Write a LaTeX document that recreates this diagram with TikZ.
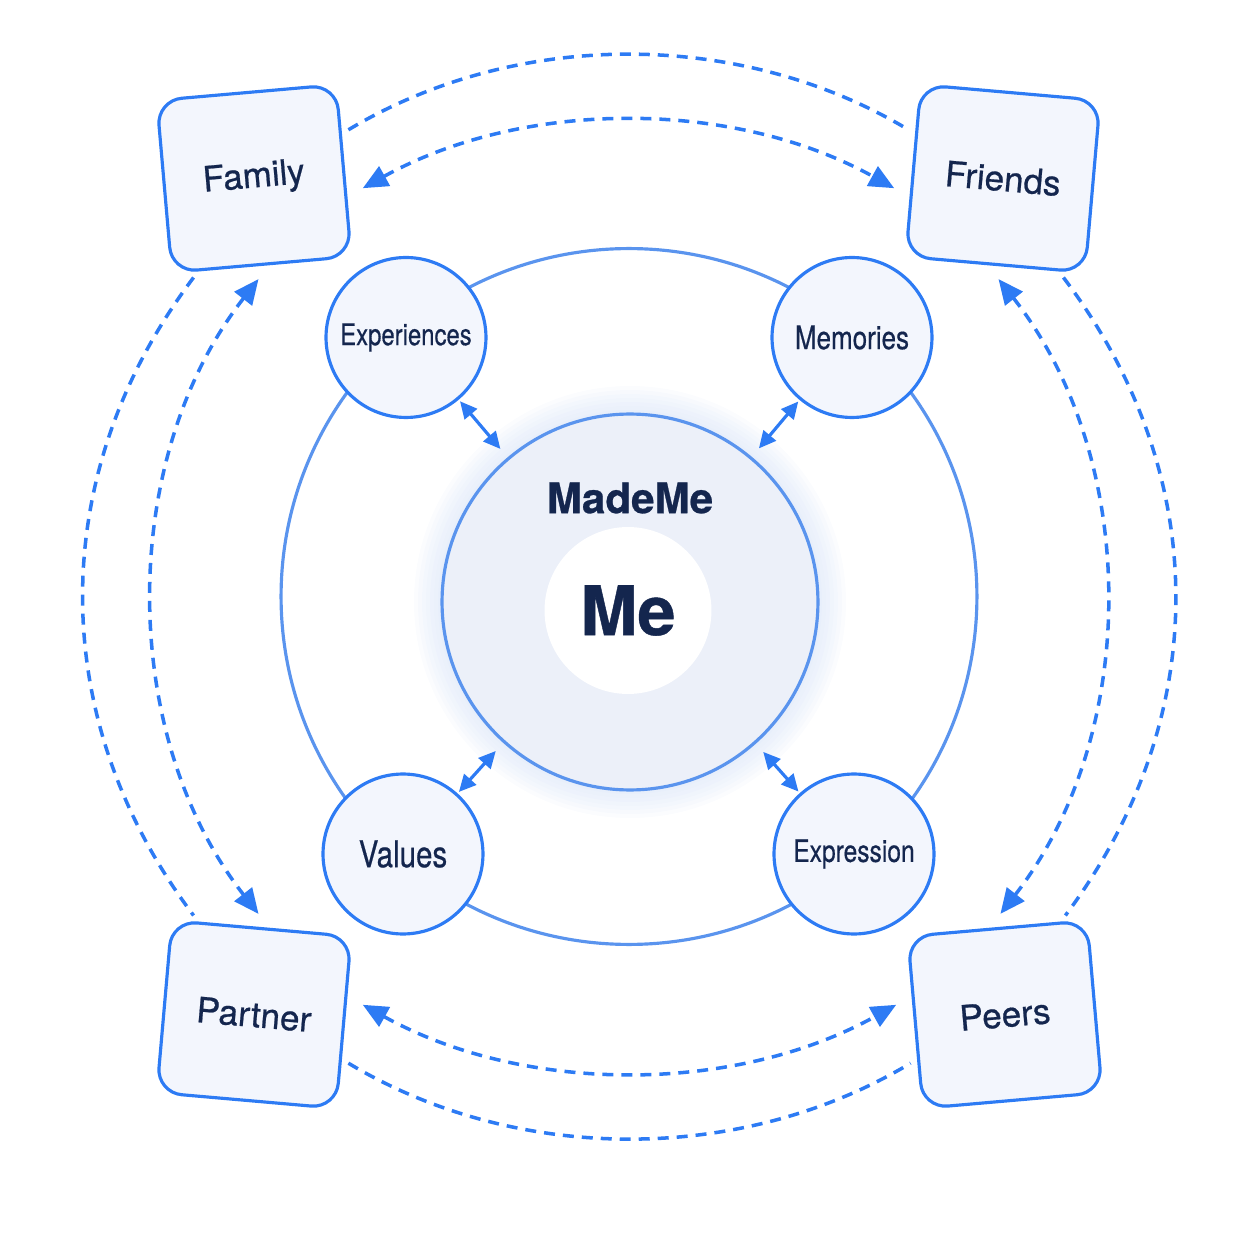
\documentclass[tikz,border=0pt]{standalone}
\usepackage{fontspec}
\setmainfont{TeX Gyre Heros}[FakeBold=0.6]
\newfontfamily\narrowsans[FakeStretch=0.8, FakeBold=0.5]{TeX Gyre Heros}
\usepackage{xcolor}
\usepackage{tikz}
\usetikzlibrary{arrows.meta, shapes.geometric}
\definecolor{LinkBlue}{HTML}{2D7BF4}
\definecolor{RingBlue}{HTML}{5A94EE}
\definecolor{BoxFill}{HTML}{F3F6FD}
\definecolor{CoreFill}{HTML}{ECF0F9}
\definecolor{GlowBlue}{HTML}{C5D6F4}
\definecolor{InkNavy}{HTML}{14264E}

\begin{document}
\begin{tikzpicture}[x=0.02cm, y=0.02cm,
  groupbox/.style={draw=LinkBlue, line width=1.8pt, fill=BoxFill, rounded corners=0.5cm, minimum width=3.6cm, minimum height=3.45cm, inner sep=0pt, text=InkNavy, font=\fontsize{20}{24}\selectfont},
  facet/.style={circle, draw=LinkBlue, line width=1.8pt, fill=BoxFill, minimum size=3.2cm, inner sep=0pt, text=InkNavy},
  orbit/.style={draw=LinkBlue, line width=2pt, dash pattern=on 0.22cm off 0.16cm},
  oneway/.style={orbit, shorten <=0.15cm, shorten >=0.15cm},
  twoway/.style={orbit, {Triangle[length=0.5cm,width=0.44cm]}-{Triangle[length=0.5cm,width=0.44cm]}, shorten <=0.35cm, shorten >=0.35cm},
  spoke/.style={draw=LinkBlue, line width=1.8pt, {Triangle[length=0.34cm,width=0.32cm]}-{Triangle[length=0.34cm,width=0.32cm]}, shorten <=0.04cm, shorten >=0.22cm}]
  \useasboundingbox (-629,-657.5) rectangle (625,596.5);

  % soft halo round the core
  \coordinate (mid) at (1,-5.5);
  \foreach \r in {216,212,...,192}
    \fill[GlowBlue, opacity=0.07] (mid) circle[radius=\r];

  \node[circle, draw=RingBlue, line width=1.8pt, minimum size=13.92cm, inner sep=0pt] (ring) at (0,0) {};
  \node[circle, draw=RingBlue, line width=1.8pt, fill=CoreFill, minimum size=7.52cm, inner sep=0pt] (core) at (mid) {};
  \node[circle, fill=white, minimum size=3.34cm, inner sep=0pt, text=InkNavy, font=\bfseries\fontsize{39}{44}\selectfont] (me) at (-1,-14) {Me};
  \node[text=InkNavy, font=\bfseries\fontsize{24}{28}\selectfont] (title) at (1,98.5) {MadeMe};

  \node[facet, font=\narrowsans\fontsize{17}{20}\selectfont] (exper) at (-223,259) {Experiences};
  \node[facet, font=\narrowsans\fontsize{18.5}{22}\selectfont] (memo) at (223,259) {Memories};
  \node[facet, font=\narrowsans\fontsize{21}{24}\selectfont] (vals) at (-226,-257.5) {Values};
  \node[facet, font=\narrowsans\fontsize{17.5}{20}\selectfont] (expr) at (225,-257.5) {Expression};

  \node[groupbox, rotate=5] (family) at (-375,418) {Family};
  \node[groupbox, rotate=-5] (friends) at (374,418) {Friends};
  \node[groupbox, rotate=-5] (partner) at (-375,-418) {Partner};
  \node[groupbox, rotate=5] (peers) at (376,-418) {Peers};

  % outer dashed arcs
  \draw[oneway] (family.22) to[bend left=31, looseness=0.91] (friends.158);
  \draw[oneway] (family.234) to[bend right=37, looseness=1] (partner.126);
  \draw[oneway] (friends.-54) to[bend left=37, looseness=1] (peers.54);
  \draw[oneway] (partner.-22) to[bend right=31, looseness=0.91] (peers.202);

  % inner dashed arcs
  \draw[twoway] (family.-16) to[bend left=29, looseness=0.92] (friends.196);
  \draw[twoway] (family.-85) to[bend right=38, looseness=0.95] (partner.85);
  \draw[twoway] (friends.265) to[bend left=38, looseness=0.95] (peers.95);
  \draw[twoway] (partner.16) to[bend right=29, looseness=0.92] (peers.164);

  \draw[spoke] (exper) -- (core);
  \draw[spoke] (memo) -- (core);
  \draw[spoke] (vals) -- (core);
  \draw[spoke] (expr) -- (core);
\end{tikzpicture}
\end{document}
